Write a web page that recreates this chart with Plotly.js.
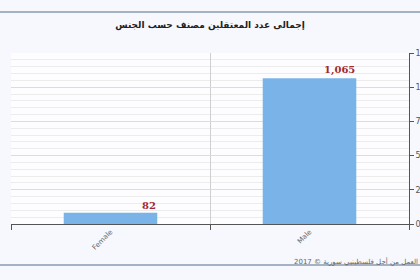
<!DOCTYPE html>
<html><head><meta charset="utf-8">
<script src="https://cdn.plot.ly/plotly-3.0.1.min.js"></script>
<style>html,body{margin:0;padding:0;background:#f6f8fd;}#chart{width:420px;height:280px;}</style>
</head><body><div id="chart"></div>
<script>
const categories = ["Female", "Male"];
const values = [82, 1065];
const valueLabels = ["82", "1,065"];
const titleText = "إجمالى عدد المعتقلين مصنف حسب الجنس";
const footerText = "العمل من أجل فلسطينيي سورية © 2017";

const trace = {
  type: "bar", x: categories, y: values,
  marker: {color: "#7ab3e7"}, width: 0.47,
  hoverinfo: "none"
};
const annotations = categories.map((c, i) => ({
  x: c, y: values[i], xref: "x", yref: "y",
  text: "<b>" + valueLabels[i] + "</b>", showarrow: false,
  xanchor: "right", yanchor: "bottom", xshift: 47, yshift: 0,
  font: {family: "DejaVu Serif, Liberation Serif, serif", size: 10, color: "#9e2a30"}
}));
annotations.push({
  xref: "paper", yref: "paper", x: 1.0276, y: -0.222, xanchor: "right", yanchor: "middle",
  text: footerText, showarrow: false,
  font: {family: "DejaVu Sans, sans-serif", size: 7, color: "#666"}
});
const layout = {
  width: 420, height: 280,
  margin: {l: 11, r: 11, t: 53, b: 56},
  paper_bgcolor: "#f6f8fd", plot_bgcolor: "#fdfdff",
  showlegend: false,
  title: {text: "<b>" + titleText + "</b>", x: 0.5, xanchor: "center", y: 1 - 25/280, yanchor: "middle",
    font: {family: "DejaVu Sans, sans-serif", size: 9, color: "#222"}},
  xaxis: {
    type: "category", tickson: "boundaries", ticks: "outside", ticklen: 5, tickcolor: "#555",
    showgrid: true, gridcolor: "#cfcfcf", showline: true, linecolor: "#555", linewidth: 1,
    tickangle: -45, tickfont: {family: "DejaVu Sans, sans-serif", size: 7, color: "#666"},
    fixedrange: true
  },
  yaxis: {
    side: "right", range: [0, 1250], dtick: 250, tick0: 0,
    ticks: "outside", ticklen: 4, tickcolor: "#555", showline: true, linecolor: "#555",
    showgrid: true, gridcolor: "#dcdcdc", zeroline: false,
    tickformat: ",d",
    tickfont: {family: "DejaVu Sans, sans-serif", size: 8, color: "#555"},
    minor: {dtick: 50, showgrid: true, gridcolor: "#ececec", ticks: ""},
    fixedrange: true
  },
  bargap: 0.53,
  annotations: annotations,
  shapes: [
    {type: "line", xref: "paper", yref: "paper", x0: -0.1, x1: 1.1, y0: (224-12)/171, y1: (224-12)/171,
     line: {color: "#8a9bb0", width: 1.5}},
    {type: "line", xref: "paper", yref: "paper", x0: -0.1, x1: 1.1, y0: (224-265)/171, y1: (224-265)/171,
     line: {color: "#8a9bb0", width: 1.5}}
  ]
};
Plotly.newPlot("chart", [trace], layout, {staticPlot: true, displayModeBar: false});
</script></body></html>
